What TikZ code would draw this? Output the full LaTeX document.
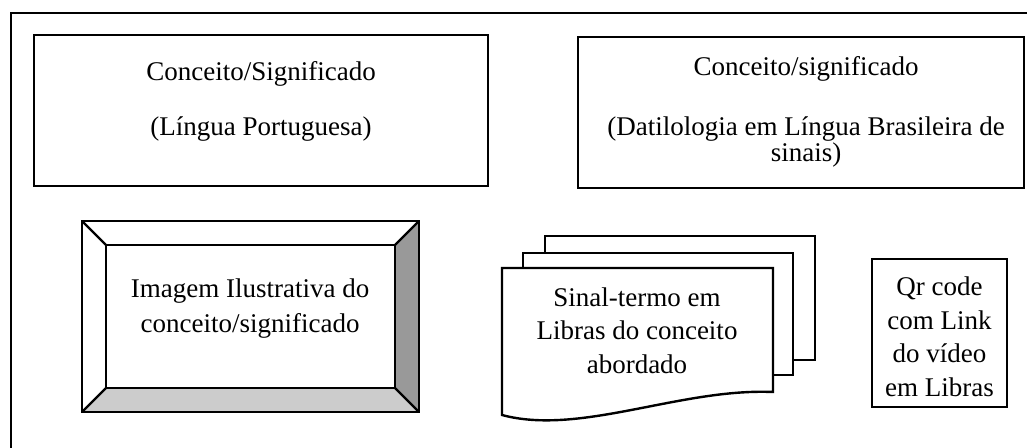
\documentclass[tikz,border=0pt]{standalone}
\usepackage{fontspec}
\setmainfont{Liberation Serif}
\begin{document}
\begin{tikzpicture}[x=0.5pt,y=-0.5pt,
  frame/.style={line width=1pt},
  box/.style={line width=1.2pt, fill=white},
  bev/.style={line width=1.2pt},
  txt/.style={font=\fontsize{13.5}{17.25}\selectfont, align=center, anchor=base, inner sep=0pt},
]
\useasboundingbox (0,0) rectangle (1027,448);
\fill[white] (0,0) rectangle (1027,448);
% outer frame
\coordinate (fa) at (11,460);
\coordinate (fb) at (11,13);
\coordinate (fc) at (1040,13);
\draw[frame] (fa) -- (fb) -- (fc);

% box 1
\coordinate (b1a) at (34,35);
\coordinate (b1b) at (488,186);
\draw[box] (b1a) rectangle (b1b);
\node[txt] (t1a) at (261,81) {Conceito/Significado};
\node[txt] (t1b) at (261,136) {(Língua Portuguesa)};

% box 2
\coordinate (b2a) at (578,37);
\coordinate (b2b) at (1024,188);
\draw[box] (b2a) rectangle (b2b);
\node[txt] (t2a) at (806,76) {Conceito/significado};
\node[txt, font=\fontsize{13.5}{13}\selectfont] (t2b) at (806,162) {(Datilologia em Língua Brasileira de\\sinais)};

% bevel frame
\coordinate (oa) at (82,221);
\coordinate (ob) at (419,221);
\coordinate (oc) at (419,412);
\coordinate (od) at (82,412);
\coordinate (ia) at (106,245);
\coordinate (ib) at (395,245);
\coordinate (ic) at (395,388);
\coordinate (id) at (106,388);
\fill[white] (oa) rectangle (oc);
\fill[black!40] (ob) -- (oc) -- (ic) -- (ib) -- cycle;
\fill[black!20] (od) -- (oc) -- (ic) -- (id) -- cycle;
\draw[bev] (oa) rectangle (oc);
\draw[bev] (ia) rectangle (ic);
\draw[bev] (oa) -- (ia) (ob) -- (ib) (oc) -- (ic) (od) -- (id);
\node[txt, font=\fontsize{13.5}{17.5}\selectfont] (t3) at (250,333) {Imagem Ilustrativa do\\conceito/significado};

% multi-document
\coordinate (d3a) at (545,236);
\coordinate (d3b) at (815,360);
\coordinate (d2a) at (523,253);
\coordinate (d2b) at (793,375);
\draw[box] (d3a) rectangle (d3b);
\draw[box] (d2a) rectangle (d2b);
\coordinate (d1a) at (502,268);
\coordinate (d1b) at (773,268);
\coordinate (d1c) at (773,392);
\coordinate (d1d) at (502,415);
\draw[box] (d1a) -- (d1b) -- (d1c) .. controls (680,388) and (580,436) .. (d1d) -- cycle;
\node[txt, font=\fontsize{13.5}{16.75}\selectfont] (t4) at (637,373) {Sinal-termo em\\Libras do conceito\\abordado};

% QR box
\coordinate (qa) at (872,259);
\coordinate (qb) at (1007,407);
\draw[box] (qa) rectangle (qb);
\node[txt, font=\fontsize{13.5}{16.75}\selectfont] (t5) at (939.5,396) {Qr code\\com Link\\do vídeo\\em Libras};
\end{tikzpicture}
\end{document}
